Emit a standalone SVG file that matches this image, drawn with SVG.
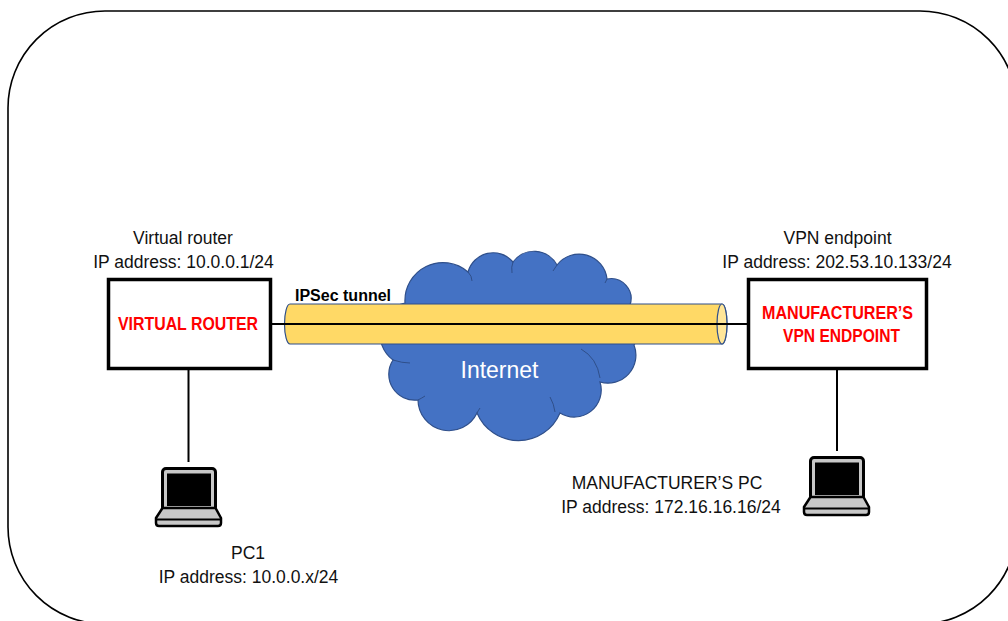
<svg xmlns="http://www.w3.org/2000/svg" width="1008" height="621" viewBox="0 0 1008 621">
  <style>
    .lbl { font-family: "Liberation Sans", Arial, sans-serif; font-size: 17.5px; fill: #111; text-anchor: middle; }
    .dev { font-family: "Liberation Sans", Arial, sans-serif; font-size: 18px; font-weight: bold; fill: #FF0000; text-anchor: middle; }
    .box { fill: #fff; stroke: #000; stroke-width: 3.5; }
    .wire { stroke: #000; stroke-width: 2; fill: none; }
    .crease { fill: none; stroke: #2F4F8A; stroke-width: 1; }
  </style>
  <defs>
    <!-- laptop icon, origin at top centre of the screen -->
    <g id="laptop">
      <rect x="-26" y="1.5" width="53" height="42" rx="3.5" fill="#c8c8c8" stroke="#000" stroke-width="3"/>
      <rect x="-21.5" y="6.5" width="44" height="32.5" fill="#000"/>
      <path d="M-26,41 L27,41 L32.5,51 L32.5,56 Q32.5,59 29.5,59 L-29.5,59 Q-32.5,59 -32.5,56 L-32.5,51 Z" fill="#c8c8c8" stroke="#000" stroke-width="2.5" stroke-linejoin="round"/>
      <line x1="-31.5" y1="52.5" x2="31.5" y2="52.5" stroke="#000" stroke-width="2"/>
    </g>
  </defs>

  <rect x="0" y="0" width="1008" height="621" fill="#fff"/>

  <!-- outer network boundary -->
  <rect id="boundary" x="8" y="11" width="1009" height="613" rx="97" ry="97" fill="none" stroke="#000" stroke-width="1.6"/>

  <!-- Internet cloud -->
  <g id="internet">
    <path d="M405,303 A38,38 0 0 1 468,272 A26,26 0 0 1 513,262 A26,26 0 0 1 557,265 A28,28 0 0 1 607,279 A20,20 0 0 1 630,305 A30,30 0 0 1 634,345 A28,28 0 0 1 600,382 A27,27 0 0 1 560,413 A45,45 0 0 1 477,413 A31,31 0 0 1 418,400 A26,26 0 0 1 393,360 A32,32 0 0 1 405,303 Z" fill="#4472C4" stroke="#2F4F8A" stroke-width="1.2"/>
    <path class="crease" d="M468,272 Q472,276 472,281"/>
    <path class="crease" d="M513,262 Q511,267 512,273"/>
    <path class="crease" d="M557,265 Q555,268 553,271"/>
    <path class="crease" d="M607,279 Q606,281 605,283"/>
    <path class="crease" d="M581,349 Q597,358 600,378"/>
    <path class="crease" d="M550,397 Q554,404 555,412"/>
    <path class="crease" d="M477,413 Q478,411 480,408"/>
    <path class="crease" d="M418,400 Q422,398 425,396"/>
    <path class="crease" d="M393,360 Q402,363 410,363"/>
    <text x="499.5" y="378" font-family="Liberation Sans, Arial, sans-serif" font-size="23" fill="#fff" text-anchor="middle">Internet</text>
  </g>

  <!-- IPSec tunnel (cylinder) -->
  <g id="tunnel">
    <path d="M290,304 L722,304 A5,20 0 0 1 722,344 L290,344 A5.5,20 0 0 1 290,304 Z" fill="#FFD966" stroke="#2F4F8A" stroke-width="1.2"/>
    <ellipse cx="722" cy="324" rx="5" ry="20" fill="#FFE699" stroke="#2F4F8A" stroke-width="1.2"/>
    <text x="295" y="301" font-family="Liberation Sans, Arial, sans-serif" font-size="16" font-weight="bold" fill="#000">IPSec tunnel</text>
  </g>

  <!-- connectors -->
  <g id="connectors">
    <line class="wire" x1="272" y1="324" x2="747" y2="324"/>
    <line class="wire" x1="188.5" y1="370" x2="188.5" y2="462"/>
    <line class="wire" x1="837" y1="370" x2="837" y2="451"/>
  </g>

  <!-- virtual router -->
  <g id="virtual-router">
    <rect class="box" x="108.5" y="279.5" width="162" height="89"/>
    <text class="dev" x="188" y="330" textLength="140" lengthAdjust="spacingAndGlyphs">VIRTUAL ROUTER</text>
    <text class="lbl" x="183" y="244">Virtual router</text>
    <text class="lbl" x="183.5" y="268">IP address: 10.0.0.1/24</text>
  </g>

  <!-- manufacturer's VPN endpoint -->
  <g id="vpn-endpoint">
    <rect class="box" x="748.5" y="279.5" width="178" height="89"/>
    <text class="dev" x="837.5" y="319" textLength="151" lengthAdjust="spacingAndGlyphs">MANUFACTURER’S</text>
    <text class="dev" x="841.5" y="342" textLength="117" lengthAdjust="spacingAndGlyphs">VPN ENDPOINT</text>
    <text class="lbl" x="837.5" y="244">VPN endpoint</text>
    <text class="lbl" x="837" y="268">IP address: 202.53.10.133/24</text>
  </g>

  <!-- PC1 -->
  <g id="pc1">
    <use href="#laptop" transform="translate(188.5,467)"/>
    <text class="lbl" x="248" y="559">PC1</text>
    <text class="lbl" x="248.5" y="583">IP address: 10.0.0.x/24</text>
  </g>

  <!-- manufacturer's PC -->
  <g id="manufacturer-pc">
    <use href="#laptop" transform="translate(836.5,456)"/>
    <text class="lbl" x="667" y="489">MANUFACTURER’S PC</text>
    <text class="lbl" x="671" y="513">IP address: 172.16.16.16/24</text>
  </g>
</svg>
